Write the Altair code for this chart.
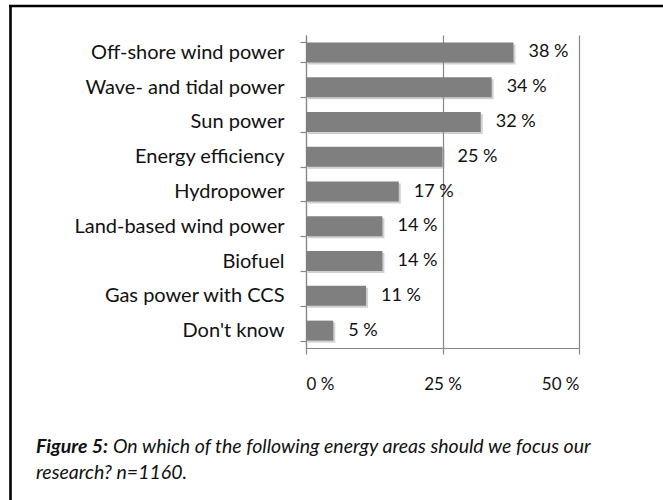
import altair as alt
import pandas as pd

# Survey answers, top to bottom
categories = [
    "Off-shore wind power",
    "Wave- and tidal power",
    "Sun power",
    "Energy efficiency",
    "Hydropower",
    "Land-based wind power",
    "Biofuel",
    "Gas power with CCS",
    "Don't know",
]
shares = [38, 34, 32, 25, 17, 14, 14, 11, 5]
x_ticks = [0, 25, 50]

caption_bold = "Figure 5:"
caption_line1 = "On which of the following energy areas should we focus our"
caption_line2 = "research? n=1160."

FONT = "Lato"
GRAY = "#868686"
BAR = "#7f7f7f"
INK = "#111111"

df = pd.DataFrame({"area": categories, "share": shares})
df["label"] = df["share"].astype(str) + " %"

x_enc = alt.X(
    "share:Q",
    scale=alt.Scale(domain=[0, 50], nice=False, zero=True),
    axis=alt.Axis(
        values=x_ticks,
        labelExpr="datum.value + ' %'",
        title=None,
        grid=True,
        gridColor=GRAY,
        gridWidth=1.2,
        domainColor=GRAY,
        domainWidth=1.2,
        tickColor=GRAY,
        tickWidth=1.2,
        tickSize=6,
        labelPadding=22,
        labelFont=FONT,
        labelFontSize=17,
        labelColor=INK,
    ),
)
y_enc = alt.Y(
    "area:N",
    sort=categories,
    scale=alt.Scale(paddingInner=0.425, paddingOuter=0.2125),
    axis=alt.Axis(
        title=None,
        tickBand="extent",
        domainColor=GRAY,
        domainWidth=1.2,
        tickColor=GRAY,
        tickWidth=1.2,
        tickSize=6,
        labelPadding=16,
        labelLimit=0,
        labelFont=FONT,
        labelFontSize=20,
        labelColor=INK,
    ),
)

base = alt.Chart(df)

shadow = base.mark_bar(color="#9a9a9a", opacity=0.45, xOffset=2, yOffset=2).encode(
    x=x_enc, y=y_enc
)
bars = base.mark_bar(color=BAR).encode(x=x_enc, y=y_enc)
labels = base.mark_text(
    align="left", baseline="middle", dx=15, font=FONT, fontSize=18, color=INK
).encode(x=x_enc, y=y_enc, text="label:N")

one = alt.Chart(pd.DataFrame({"k": [0]}))

# Frame around the figure (left and top edges)
frame_left = one.mark_rule(color="black", strokeWidth=2.6).encode(
    x=alt.value(10.5 - 306), y=alt.value(5 - 35), y2=alt.value(500)
)
frame_top = one.mark_rule(color="black", strokeWidth=2.6).encode(
    x=alt.value(9 - 306), x2=alt.value(700), y=alt.value(6 - 35)
)

cap_style = dict(align="left", baseline="alphabetic", font=FONT, fontSize=19.5,
                 fontStyle="italic", color=INK)
cap_a = one.mark_text(fontWeight="bold", **cap_style).encode(
    x=alt.value(36 - 306), y=alt.value(453 - 35), text=alt.value(caption_bold)
)
cap_b = one.mark_text(**cap_style).encode(
    x=alt.value(36 - 306 + 77), y=alt.value(453 - 35), text=alt.value(caption_line1)
)
cap_c = one.mark_text(**cap_style).encode(
    x=alt.value(36 - 306), y=alt.value(479 - 35), text=alt.value(caption_line2)
)

chart = (
    alt.layer(shadow, bars, labels, frame_left, frame_top, cap_a, cap_b, cap_c)
    .properties(
        width=273,
        height=313,
        autosize=alt.AutoSizeParams(type="none"),
        padding={"left": 306, "top": 35, "right": 84, "bottom": 152},
        background="white",
    )
    .configure_view(stroke=None)
)

chart.save("out.html", embed_options={"renderer": "svg", "actions": False})
